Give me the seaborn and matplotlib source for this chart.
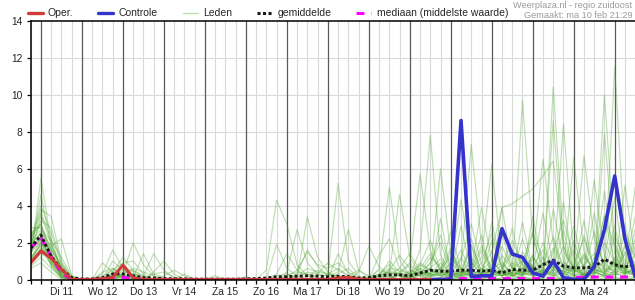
import matplotlib
matplotlib.use("Agg")
import matplotlib.pyplot as plt
from matplotlib.lines import Line2D
from matplotlib.ticker import FixedLocator, NullFormatter
import numpy as np
import pandas as pd
import seaborn as sns

# ---------------- data (6-hourly steps, ma 10 feb 18:00 -> di 25 feb 12:00) ----------------
dag_labels = ["Di 11", "Wo 12", "Do 13", "Vr 14", "Za 15", "Zo 16", "Ma 17",
              "Di 18", "Wo 19", "Do 20", "Vr 21", "Za 22", "Zo 23", "Ma 24"]
y_ticks = [0, 2, 4, 6, 8, 10, 12, 14]

oper = [0.9, 1.55, 1.15, 0.55, 0, 0, 0, 0.05, 0.1, 0.78,
        0.1, 0, 0, 0, 0, 0, 0, 0, 0, 0,
        0, 0, 0, 0, 0, 0, 0, 0, 0, 0,
        0.08, 0.12, 0.02, 0, 0, 0, 0, 0, 0, 0]
controle_start = 39
controle = [0, 0, 0, 8.6, 0.15, 0.2, 0.2, 2.75, 1.38, 1.2, 0.36,
            0.18, 1.0, 0.1, 0, 0, 0.7, 2.7, 5.6, 2.2, 0.15]
gemiddelde = [1.7, 2.4, 1.25, 0.55, 0.1, 0.03, 0.03, 0.1, 0.3, 0.3,
              0.2, 0.1, 0.08, 0.05, 0.04, 0.04, 0.02, 0.02, 0.02, 0.02,
              0.02, 0.03, 0.05, 0.08, 0.15, 0.15, 0.18, 0.2, 0.18, 0.15,
              0.18, 0.15, 0.08, 0.1, 0.2, 0.25, 0.25, 0.2, 0.35, 0.5,
              0.45, 0.45, 0.5, 0.5, 0.45, 0.5, 0.36, 0.54, 0.5, 0.5,
              0.8, 1.05, 0.72, 0.63, 0.63, 0.68, 1.1, 0.8, 0.68, 0.8]
mediaan = [1.7, 2.25, 1.25, 0.35, 0, 0, 0, 0.03, 0.12, 0.12,
           0.05, 0, 0, 0, 0, 0, 0, 0, 0, 0,
           0, 0, 0, 0, 0, 0, 0, 0, 0, 0,
           0, 0, 0, 0, 0, 0, 0, 0, 0, 0,
           0, 0.05, 0.05, 0.05, 0.05, 0.05, 0.05, 0.05, 0.05, 0.05,
           0.05, 0.05, 0.05, 0.1, 0.13, 0.13, 0.13, 0.13, 0.13, 0.13]

lid01 = [1.2,5.5,2.0,0.5,0,0,0,0.3,1.6,0.6, 0.2,0,0,0,0,0,0,0,0,0, 0,0,0,0.5,4.3,3.0,0.8,0.2,0,0,
         0.3,0.6,0.1,0,0.2,1.0,0.4,0,0.8,2.1, 0.5,0,0.3,1.2,0.4,0,0.6,2.1,0.8,0.2, 0,1.5,3.2,1.1,0,0.4,2.0,0.9,0.3,1.4]
lid02 = [2.0,3.8,3.4,1.0,0.1,0,0,0,0.4,1.2, 0.5,0.1,0,0,0,0,0,0,0,0, 0,0,0,0,1.9,0.6,0.2,0,0,0,
         0,0,0,0,0,0.3,4.6,1.2,0.3,0.9, 2.4,0.6,4.3,1.0,0.2,0.5,0.3,0,0.9,2.6, 1.1,0.3,0,0.8,2.2,0.6,0.1,0,1.8,0.7]
lid03 = [1.5,2.6,1.8,2.2,0.2,0,0,0,0,0.3, 2.0,0.8,0.2,0,0,0,0,0,0,0, 0,0,0,0,0,0.4,2.7,0.9,0.3,0,
         0,0.2,0.5,0.2,0,0,0.4,0.9,5.7,1.6, 0.4,0.1,0.8,7.3,1.9,0.6,0.2,0.4,1.5,0.6, 0.3,0.9,0.4,0,0.3,1.2,3.4,1.8,0.5,0.2]
lid04 = [0.9,2.0,1.2,0.3,0,0,0,0.1,0.2,0.1, 0,0,0,0,0,0,0,0,0,0, 0,0,0,0,0.2,0.3,0.1,3.4,1.2,0.4,
         0.1,0,0,0,0,0.5,1.3,0.6,0.2,0.4, 6.0,1.4,0.3,0.6,3.9,1.0,0.4,0,0.3,1.1, 6.5,2.0,0.7,0.2,0,0.9,0.3,2.4,1.0,0.4]
lid05 = [2.5,3.0,1.5,0.4,0,0,0,0,0.6,0.2, 0.1,1.4,0.3,0.1,0,0,0,0,0,0, 0,0,0,0,0,0,0,0.2,0.5,0.3,
         5.2,1.0,0.2,0,0,0,0,0.3,0.9,0.5, 0.2,0.5,1.6,0.4,0,0.3,0.8,0.3,9.7,2.3, 0.6,0.2,0.5,1.6,0.7,0.2,0,0.5,2.5,1.2]
lid06 = [1.8,2.2,1.0,0.2,0,0,0,0,0,0, 0.3,0.2,1.4,0.5,0.1,0,0,0,0,0, 0,0,0,0,0,0,0.3,1.6,0.7,0.2,
         0.4,2.7,0.5,0.1,0,0,0,0.2,0.6,0.3, 0.9,0.3,0.1,0.5,1.2,6.2,1.0,0.2,0.6,0.3, 0.2,10.4,2.1,0.5,0.3,0.8,0.4,1.1,0.3,0.6]
lid07 = [1.0,1.6,0.8,0.1,0,0,0,0.9,0.4,0.1, 0,0,0,0,0,0.3,0,0,0,0, 0,0,0,0,0,0,0,0,0,0,
         1.4,0.3,0,0,0.6,5.0,1.1,0.2,0,0.3, 0.6,0.2,0.4,0.9,0.3,0.1,3.9,0.7,0.2,0.5, 1.2,0.4,8.4,1.3,0.2,0.5,1.0,0.3,0.7,5.0]
lid08 = [2.2,4.0,2.5,0.8,0.1,0,0,0,0.3,0.8, 0.4,0,0,0,0,0,0,0,0,0, 0,0,0,0,0,0,0,0,0,0,
         0,0,0,0,0.3,0.8,0.2,0,0,0.6, 1.1,0.3,0,0.2,0.6,1.5,3.9,4.1,4.5,4.9, 5.6,6.4,1.8,0.5,0.2,0.6,0.3,0.9,0.4,0.2]
lid09 = [1.4,2.4,1.4,0.3,0,0,0,0,1.0,0.5, 0.2,0,0.3,0.4,0.1,0,0,0,0,0, 0,0,0,0,0,0,0,0,0,0,
         0,0,0,0,0.2,0.4,0.3,0.2,1.6,7.8, 1.3,0.4,0.2,0.6,1.8,0.5,0.2,0.4,1.0,0.3, 0.5,1.7,0.6,6.6,1.5,0.4,0.2,0.8,0.6,0.3]
lid10 = [0.7,1.2,0.6,0.1,0,0,0,0,0,0, 0,0,0,0,0,0,0,0,0.2,0, 0,0,0,0,0,0.2,0.5,1.5,0.8,0.6,
         0.9,0.4,0.1,0,0,0.2,0.6,1.4,0.5,0.3, 0.2,0.1,0.6,0.3,0.9,2.5,0.6,0.2,0.4,1.3, 0.4,0.2,0.9,0.6,6.7,2.2,0.8,0.4,1.5,0.9]
lid11 = [1.6,3.2,2.8,0.9,0.1,0,0,0.2,0.5,0.9, 1.0,0.3,0,0,0,0,0,0,0,0, 0,0,0,0,0,0,0,0,0,0,
         0,0,0,0,0,0.1,0.3,0.8,0.4,1.2, 0.7,0.2,1.1,3.0,0.8,0.3,0.5,1.4,0.3,0.2, 0.9,0.5,0.3,0.2,0.6,5.4,1.3,0.5,0.3,0.8]
lid12 = [2.8,2.8,1.2,0.2,0,0,0,0,0.1,0.1, 0,0,0,0,0,0,0,0,0,0, 0,0,0,0,0,0,0,0,0.3,0.9,
         0.5,0.2,0,0,0,0,0,0,0.2,0.6, 0.3,0.9,0.4,0.2,0.6,0.3,0.2,0.9,0.6,0.4, 0.3,0.8,0.4,0.3,1.2,0.5,10.0,2.0,0.5,0.3]
lid13 = [1.1,1.9,1.6,0.5,0,0,0,0,0.2,0.3, 0.6,0.4,0.2,0,0,0,0,0,0,0, 0,0,0,0,0,0,0.1,0.4,0.3,0.2,
         0.2,0.1,0,0.1,0.5,0.3,0.2,0.1,0.3,0.2, 0.1,0.5,0.3,0.2,0.4,0.6,0.3,0.5,1.1,0.7, 0.4,0.9,0.6,0.4,0.8,1.4,0.5,11.5,2.0,0.6]
lid14 = [1.9,2.5,0.9,0.2,0,0,0,0,0,0.2, 0.1,0,0,0.2,0.5,0.2,0,0,0,0, 0,0,0,0,0,0,0,0,0,0,
         0,0,0,0,0,0,0,0.5,0.3,0.9, 2.0,0.4,0.2,0.3,0.5,1.0,0.4,0.2,0.6,0.8, 0.3,8.6,1.5,0.6,0.3,0.2,7.9,1.4,0.4,0.5]
lid15 = [1.3,3.5,1.9,0.6,0,0,0,0,0,0, 0,0,0.4,1.0,0.3,0,0,0,0,0, 0,0,0,0,0,0,0,0,0,0,
         0,0,0,0,0.1,0.2,0,0,0.4,0.3, 0.5,0.2,0.4,0.3,0.1,0.6,0.9,0.3,0.4,0.3, 0.2,0.5,0.4,0.7,0.4,0.3,0.6,0.5,5.1,1.1]
lid16 = [0.8,1.4,1.1,0.4,0,0,0,0,0.1,0.2, 0.3,0,0,0,0,0,0,0,0,0, 0,0.15,0,0,0,0,0,0,0,0,
         0,0,0,0.1,0.3,0.6,0.5,0.3,0.8,0.5, 0.3,1.5,0.6,0.3,0.2,0.4,1.8,0.6,0.3,0.7, 1.6,0.6,0.3,0.5,1.3,0.6,0.3,1.2,0.5,1.8]
lid17 = [2.1,2.7,2.1,1.2,0.2,0,0,0.4,0.6,0.3, 0.1,0,0,0,0,0,0,0,0,0, 0,0,0,0,0,0,0,0,0,0.3,
         0.6,0.2,0,0,0,0,0,0,0,0.2, 0.4,2.6,0.5,1.8,0.2,3.1,0.6,0.3,2.2,0.5, 0.3,3.8,1.0,0.3,2.4,0.6,3.5,0.8,0.2,2.7]
lid18 = [1.7,2.1,0.7,0.1,0,0,0,0,0.3,0.1, 0,0,0,0,0,0,0,0,0,0, 0,0,0,0,0,0,0,0,0,0,
         0,0,0,0,0,0,0,0,0,0.2, 0.3,0.2,2.9,0.4,0.3,0.8,2.5,0.5,0.2,3.4, 0.6,0.3,4.2,0.5,1.4,0.3,1.0,4.4,0.4,0.3]
lid19 = [0.6,0.9,0.4,0,0,0,0,0,0,0, 0,0,0,0,0,0,0,0,0,0, 0,0,0,0,0,0,0,0,0,0,
         0,0,0,0,0,0.1,0.2,0.1,0.4,0.3, 3.3,0.4,0.2,1.9,0.5,0.3,0.4,2.8,0.3,0.6, 3.6,0.8,0.5,2.9,0.6,0.9,4.8,0.6,3.0,0.5]
lid20 = [2.4,3.0,1.3,0.3,0,0,0,0,0.2,0.5, 0.2,0,0,0,0,0,0,0,0,0, 0,0,0,0,0,0,0,0,0,0,
         0,0,0,0,0,0,0,0.2,0.6,1.4, 0.5,1.7,0.3,0.6,2.4,0.2,0.5,0.3,3.1,0.5, 0.8,2.3,0.6,0.5,3.2,0.4,0.7,2.9,0.6,3.4]
lid21 = [1.5,2.0,1.7,0.7,0,0,0,0,0,0, 0,0,0,0,0,0,0,0,0,0, 0,0,0,0,0,0,0.2,0.6,0.4,0.3,
         0.2,0.1,0,0,0.2,0.5,0.3,0.4,0.2,0.3, 0.2,0.4,1.2,0.2,0.3,2.1,0.6,1.6,0.8,0.4, 2.0,0.5,2.7,0.4,0.5,3.6,0.3,0.4,1.9,0.3]
lid22 = [1.0,2.3,1.0,0.2,0,0,0,0,0.1,0.2, 0,0,0,0,0,0,0,0,0,0, 0,0,0,0,0,0,0,0,0,0,
         0,0,0.4,1.8,0.7,0.2,0,0,0,0, 0,0.1,0.3,2.2,0.3,0.2,1.3,0.6,0.4,2.5, 0.3,0.5,1.8,0.2,0.4,2.6,0.5,0.3,0.4,2.2]
lid23 = [1.9,3.6,2.2,0.5,0,0,0,0,0,0.3, 0.5,0.2,0,0,0,0,0,0,0,0, 0,0,0,0,0,0,0,0,0,0,
         0,0,0,0,1.3,2.2,0.6,0.3,0.2,0.1, 0.6,1.2,0.5,0.3,0.2,0.5,0.4,0.2,0.3,0.3, 0.5,0.7,0.4,0.6,0.3,0.5,0.4,0.9,0.3,0.6]
lid24 = [1.2,1.8,0.9,0.3,0,0,0,0,0,0, 0,0,0,0,0,0,0,0,0,0, 0,0,0,0,0,0.2,0.4,0.3,0.1,0,
         0,0,0,0,0,0,0,0,0.3,0.5, 0.4,0.3,0.2,0.4,1.6,0.3,0.2,0.4,0.2,1.3, 0.2,0.4,0.2,2.1,0.5,0.2,0.3,0.2,1.4,0.3]
lid25 = [2.0,2.5,1.4,0.1,0,0,0,0,0,0, 0,0,0,0,0,0,0,0,0,0, 0,0,0,0,0.3,1.4,0.5,0.2,0,0,
         0,0,0,0,0.2,0.4,0.2,0.3,0.4,0.2, 0.3,0.2,0.4,0.2,0.3,0.5,0.2,0.3,0.6,0.2, 0.4,0.3,0.5,0.2,0.3,0.4,0.2,0.3,0.2,0.4]
lid26 = [1.4,4.6,1.8,0.6,0,0,0,0,0,0, 0,0,0,0,0,0,0,0,0,0, 0,0,0,0,0,0,0,0,0,0,
         0,0,0,0,0,0,0,0,0,0, 0.1,0.2,0.1,0.3,0.2,0.1,0.3,0.2,0.4,0.2, 0.3,0.2,0.3,0.1,0.2,0.4,0.2,0.3,0.2,0.1]
lid27 = [0.9,1.7,1.3,0.4,0.1,0,0,0,0,0, 0,0,0,0,0,0,0,0,0,0, 0,0,0,0,0,0,0,0,0,0,
         0,0,0,0,0,0,0,0,0,0, 0,0,0.1,0,0.2,0.1,0,0.2,0.1,0, 0.1,0.2,0,0.1,0.3,0.1,0.2,0.1,0,0.1]
lid28 = [1.6,2.2,1.1,0.2,0,0,0,0,0,0, 0,0,0,0,0,0,0,0,0,0, 0,0,0,0,0,0,0,0,0,0,
         0,0,0,0,0,0,0,0,0,0, 0,0,0,0,0,0,0.1,0,0,0.1, 0,0,0.1,0,0,0,0,0.1,0,0]
lid29 = [2.3,2.9,1.6,0.8,0,0,0,0,0,0, 0,0,0,0,0,0,0,0,0,0, 0,0,0,0,0,0,0,0,0,0,
         0,0,0,0,0,0,0,0,0,0, 0,0,0,0,0,0,0,0,0,0, 0,0,0,0,0,0,0,0,0,0]
lid30 = [1.1,2.0,0.8,0.1,0,0,0,0,0,0, 0,0,0,0,0,0,0,0,0,0, 0,0,0,0,0,0,0,0,0,0,
         0,0,0,0,0,0,0,0,0,0, 0,0,0.2,0,0,0.1,0,0,0.2,0, 0,0.1,0,0,0.2,0,0,0,0.1,0]

leden = [lid01, lid02, lid03, lid04, lid05, lid06, lid07, lid08, lid09, lid10,
         lid11, lid12, lid13, lid14, lid15, lid16, lid17, lid18, lid19, lid20,
         lid21, lid22, lid23, lid24, lid25, lid26, lid27, lid28, lid29, lid30]

# ---------------- build tables ----------------
n = len(gemiddelde)
t = np.arange(n)
df_leden = pd.DataFrame([
    {"t": i, "v": v, "lid": k}
    for k, lid in enumerate(leden) for i, v in enumerate(lid)
])
df_oper = pd.DataFrame({"t": t[:len(oper)], "v": oper})
df_ctrl = pd.DataFrame({"t": t[controle_start:controle_start + len(controle)], "v": controle})
df_mean = pd.DataFrame({"t": t, "v": gemiddelde})
df_med = pd.DataFrame({"t": t, "v": mediaan})

# ---------------- style ----------------
sns.set_style("white")
plt.rcParams["font.family"] = ["Liberation Sans", "DejaVu Sans"]
FS = 7.4
LFS = 7.5

W, H = 635, 300
fig = plt.figure(figsize=(W / 100, H / 100), dpi=100)
left_px, right_px, top_px, bot_px = 30.7, 635.2, 20.7, 279.5
ax = fig.add_axes([left_px / W, 1 - bot_px / H, (right_px - left_px) / W, (bot_px - top_px) / H])

ax.set_xlim(0, n - 1)
ax.set_ylim(0, 14)

# grid
for yv in y_ticks[1:-1]:
    ax.axhline(yv, color="#d9d9d9", lw=0.8, zorder=0)
for i in t:
    midnight = (i - 1) % 4 == 0
    ax.axvline(i, color="#5a5a5a" if midnight else "#d9d9d9",
               lw=0.9 if midnight else 0.8, zorder=0.5 if midnight else 0)

# members
sns.lineplot(data=df_leden, x="t", y="v", units="lid", estimator=None,
             color="#4ea52e", alpha=0.36, lw=0.85, ax=ax, legend=False, zorder=2)
# median, mean
sns.lineplot(data=df_med, x="t", y="v", color="#ff00ff", lw=2.2, ax=ax,
             zorder=3, legend=False).lines[-1].set_dashes((2.6, 2.2))
sns.lineplot(data=df_mean, x="t", y="v", color="#1a1a1a", lw=2.1, ax=ax,
             zorder=4, legend=False).lines[-1].set_dashes((1.0, 0.8))
# control & oper
sns.lineplot(data=df_ctrl, x="t", y="v", color="#3434cc", lw=2.6, ax=ax,
             zorder=5, legend=False)
sns.lineplot(data=df_oper, x="t", y="v", color="#d23a3a", lw=2.2, ax=ax,
             zorder=6, legend=False)

# axes cosmetics
ax.set_xlabel("")
ax.set_ylabel("")
for s in ["left", "top", "bottom"]:
    ax.spines[s].set_visible(True)
    ax.spines[s].set_color("black")
    ax.spines[s].set_linewidth(1.1)
    ax.spines[s].set_zorder(7)
ax.spines["right"].set_visible(False)

ax.set_yticks(y_ticks)
ax.set_yticklabels([str(v) for v in y_ticks])
label_pos = [3 + 4 * k for k in range(len(dag_labels))]
ax.set_xticks(label_pos)
ax.set_xticklabels(dag_labels)
ax.xaxis.set_minor_locator(FixedLocator(list(t)))
ax.xaxis.set_minor_formatter(NullFormatter())
ax.xaxis.remove_overlapping_locs = False
ax.tick_params(axis="x", which="both", direction="out", length=3.2, width=0.9,
               color="black", labelsize=FS, pad=2.2, bottom=True)
ax.tick_params(axis="y", which="major", direction="out", length=3.2, width=0.9,
               color="black", labelsize=FS, pad=2.6, left=True)

# legend
handles = [
    Line2D([], [], color="#d23a3a", lw=2.4),
    Line2D([], [], color="#3434cc", lw=2.4),
    Line2D([], [], color="#b8dcaa", lw=0.9),
    Line2D([], [], color="#1a1a1a", lw=2.2, dashes=(1.0, 0.8)),
    Line2D([], [], color="#ff00ff", lw=2.2, dashes=(2.6, 2.2)),
]
labels = ["Oper.", "Controle", "Leden", "gemiddelde", "mediaan (middelste waarde)"]
fig.legend(handles, labels, loc="center left", bbox_to_anchor=(27.5 / W, 1 - 13.3 / H),
           ncol=5, frameon=False, fontsize=LFS, handlelength=1.45, handletextpad=0.5,
           columnspacing=2.4, borderpad=0, borderaxespad=0)

fig.text(632 / W, 1 - 5 / H, "Weerplaza.nl - regio zuidoost", ha="right", va="center",
         fontsize=6.6, color="#9a9a9a")
fig.text(632 / W, 1 - 15 / H, "Gemaakt: ma 10 feb 21:29", ha="right", va="center",
         fontsize=6.6, color="#9a9a9a")

fig.savefig("out.png", dpi=100)
